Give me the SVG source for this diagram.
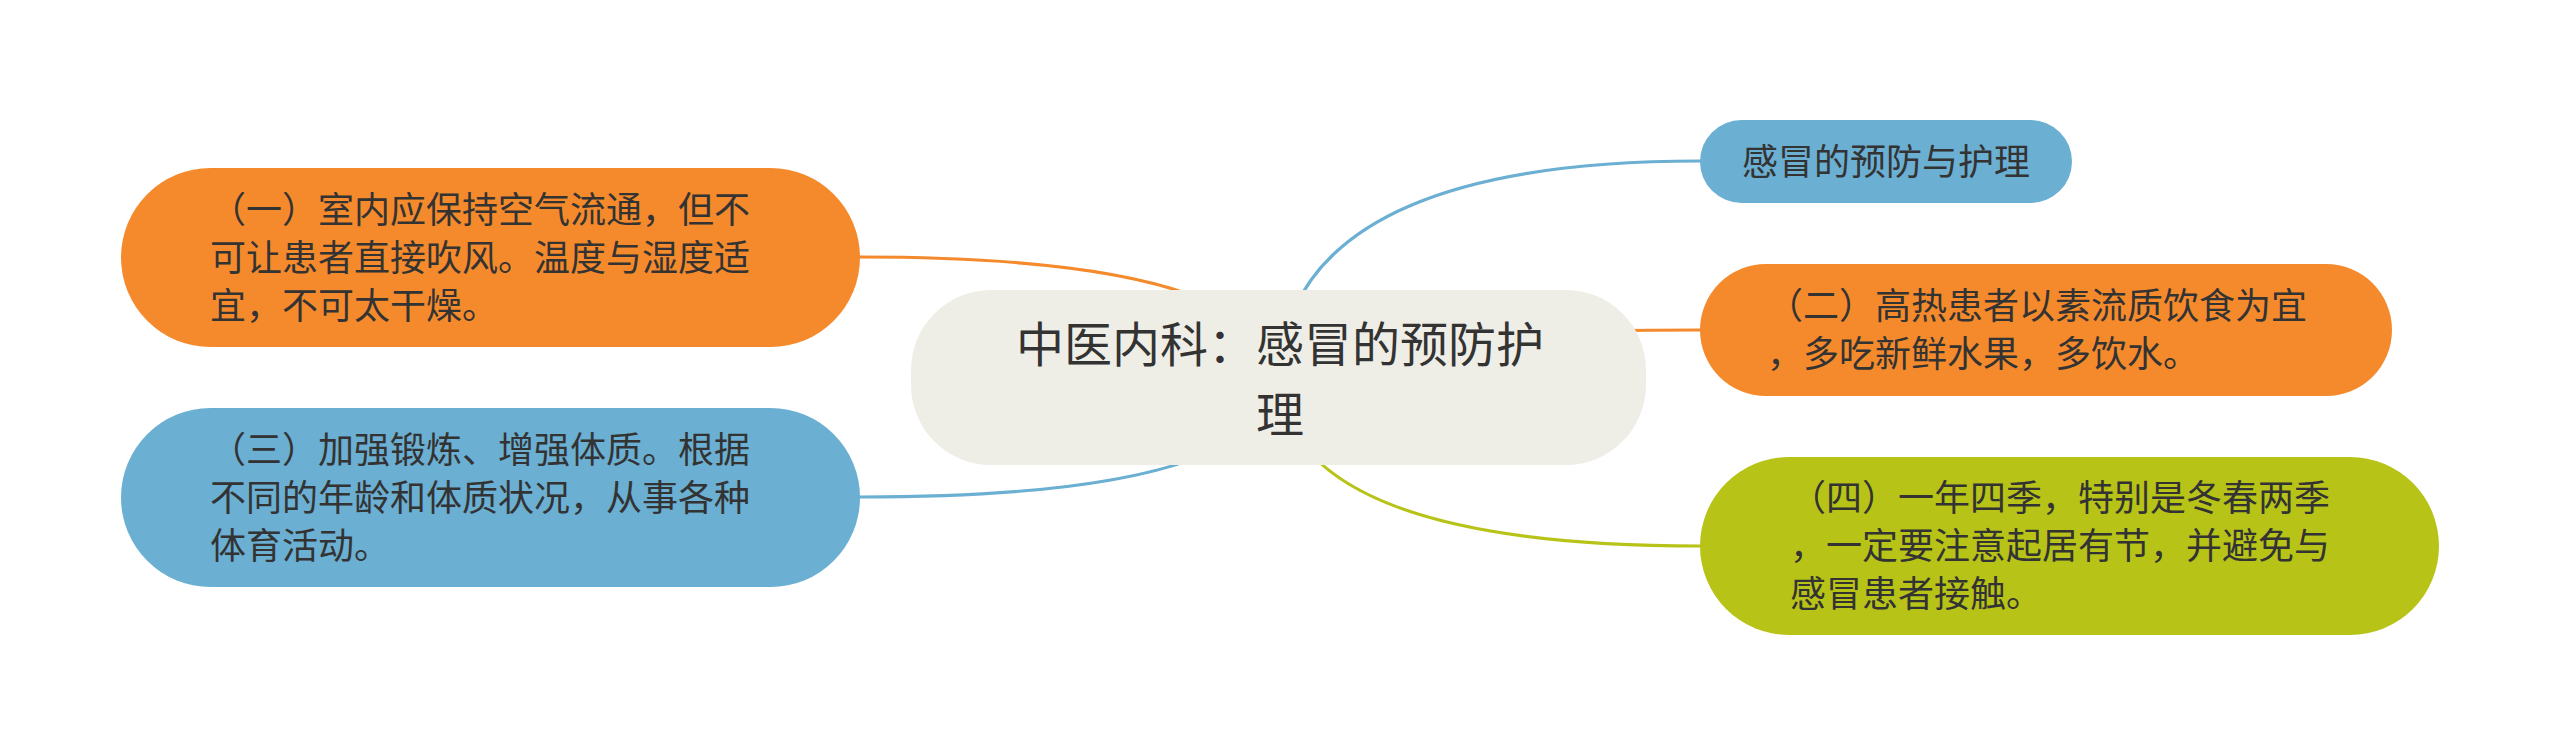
<svg xmlns="http://www.w3.org/2000/svg" width="2560" height="756" viewBox="0 0 2560 756">
<style>
.t{font-family:"Noto Sans CJK SC","Noto Sans",sans-serif;fill:#333333;font-size:36px}
.c{font-size:48px}
.e{fill:none;stroke-width:3.2;stroke-linecap:round}
.or{fill:#F58A2C}
.bl{fill:#6BAFD2}
.gr{fill:#B8C317}
</style>
<rect width="2560" height="756" fill="#FFFFFF"/>
<g id="connectors">
<path class="e" stroke="#6BAFD2" d="M1278,378 Q1290,161 1700,161"/>
<path class="e" stroke="#F58A2C" d="M1278,378 Q1290,330 1700,330"/>
<path class="e" stroke="#B8C317" d="M1278,378 Q1290,546 1700,546"/>
<path class="e" stroke="#F58A2C" d="M1278,378 Q1266,257 860,257"/>
<path class="e" stroke="#6BAFD2" d="M1278,378 Q1266,497 860,497"/>
</g>
<g id="root">
<rect x="911" y="290" width="735" height="175" rx="80" ry="80" fill="#EFEEE6"/>
<text class="t c" text-anchor="middle"><tspan x="1280" y="362">中医内科：感冒的预防护</tspan><tspan x="1280" y="432">理</tspan></text>
</g>
<g id="node-top">
<rect class="bl" x="1700" y="120" width="372" height="83" rx="41.5" ry="41.5"/>
<text class="t" x="1886" y="175" text-anchor="middle">感冒的预防与护理</text>
</g>
<g id="node-2">
<rect class="or" x="1700" y="264" width="692" height="132" rx="66" ry="66"/>
<text class="t"><tspan x="1767" y="319">（二）高热患者以素流质饮食为宜</tspan><tspan x="1767" y="367">，多吃新鲜水果，多饮水。</tspan></text>
</g>
<g id="node-4">
<rect class="gr" x="1700" y="457" width="739" height="178" rx="89" ry="89"/>
<text class="t"><tspan x="1790" y="511">（四）一年四季，特别是冬春两季</tspan><tspan x="1790" y="559">，一定要注意起居有节，并避免与</tspan><tspan x="1790" y="607">感冒患者接触。</tspan></text>
</g>
<g id="node-1">
<rect class="or" x="121" y="168" width="739" height="179" rx="89.5" ry="89.5"/>
<text class="t"><tspan x="210" y="223">（一）室内应保持空气流通，但不</tspan><tspan x="210" y="271">可让患者直接吹风。温度与湿度适</tspan><tspan x="210" y="319">宜，不可太干燥。</tspan></text>
</g>
<g id="node-3">
<rect class="bl" x="121" y="408" width="739" height="179" rx="89.5" ry="89.5"/>
<text class="t"><tspan x="210" y="463">（三）加强锻炼、增强体质。根据</tspan><tspan x="210" y="511">不同的年龄和体质状况，从事各种</tspan><tspan x="210" y="559">体育活动。</tspan></text>
</g>
</svg>
